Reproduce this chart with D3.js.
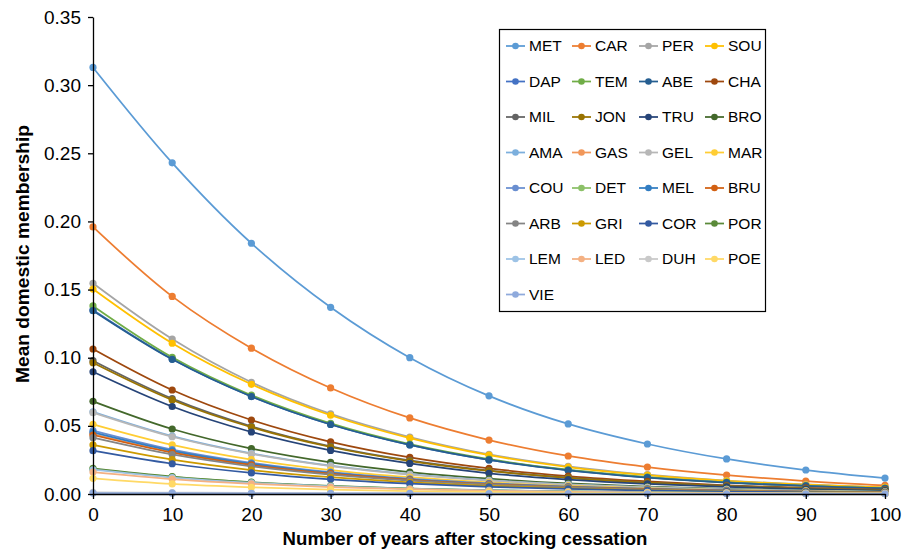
<!DOCTYPE html>
<html><head><meta charset="utf-8">
<script src="https://cdn.jsdelivr.net/npm/d3@7"></script>
<style>
html,body{margin:0;padding:0;background:#fff;}
text{font-family:"Liberation Sans",Arial,sans-serif;}
</style></head>
<body>
<svg id="chart" width="914" height="549"></svg>
<script>
const years = [0,10,20,30,40,50,60,70,80,90,100];
const xTicks = [0,10,20,30,40,50,60,70,80,90,100];
const yTicks = [0,0.05,0.10,0.15,0.20,0.25,0.30,0.35];
const seriesNames = ["MET","CAR","PER","SOU","DAP","TEM","ABE","CHA","MIL","JON","TRU","BRO","AMA","GAS","GEL","MAR","COU","DET","MEL","BRU","ARB","GRI","COR","POR","LEM","LED","DUH","POE","VIE"];
const seriesColors = ["#5B9BD5","#ED7D31","#A5A5A5","#FFC000","#4472C4","#70AD47","#255E91","#9E480E","#636363","#997300","#264478","#43682B","#7CAFDD","#F1975A","#B7B7B7","#FFCD33","#698ED0","#8CC168","#327DC2","#D26012","#848484","#CC9A00","#335AA1","#5A8A39","#9DC3E6","#F4B183","#C9C9C9","#FFD966","#8FAADC"];
const MET = [0.313,0.243,0.184,0.137,0.100,0.072,0.0514,0.0367,0.0257,0.0176,0.0117];
const CAR = [0.196,0.145,0.107,0.0778,0.0558,0.0396,0.0279,0.0198,0.0139,0.0095,0.0063];
const PER = [0.1546,0.1137,0.0820,0.0588,0.0418,0.0291,0.0203,0.0142,0.0099,0.0070,0.0049];
const SOU = [0.1504,0.1106,0.0805,0.0578,0.0410,0.0285,0.0198,0.0139,0.0097,0.0068,0.0048];
const DAP = [0.1350,0.0990,0.0716,0.0511,0.0361,0.0251,0.0175,0.0122,0.0085,0.0059,0.0041];
const TEM = [0.1380,0.1003,0.0725,0.0518,0.0366,0.0256,0.0178,0.0124,0.0086,0.0060,0.0042];
const ABE = [0.1345,0.0988,0.0715,0.0510,0.0360,0.0250,0.0174,0.0121,0.0084,0.0059,0.0041];
const CHA = [0.1064,0.0763,0.0543,0.0383,0.0269,0.0188,0.0131,0.0092,0.0064,0.0045,0.0031];
const MIL = [0.0978,0.0700,0.0497,0.0350,0.0246,0.0172,0.0120,0.0084,0.0059,0.0041,0.0028];
const JON = [0.0963,0.0690,0.0490,0.0345,0.0242,0.0169,0.0118,0.0083,0.0058,0.0040,0.0028];
const TRU = [0.0897,0.0642,0.0455,0.0320,0.0224,0.0152,0.0106,0.0074,0.0052,0.0036,0.0025];
const BRO = [0.0680,0.0477,0.0333,0.0232,0.0161,0.0112,0.0078,0.0054,0.0038,0.0027,0.0018];
const AMA = [0.0603,0.0425,0.0298,0.0208,0.0145,0.0101,0.0070,0.0049,0.0034,0.0024,0.0016];
const GAS = [0.0440,0.0308,0.0216,0.0151,0.0105,0.0073,0.0051,0.0036,0.0025,0.0017,0.0012];
const GEL = [0.0597,0.0420,0.0294,0.0205,0.0143,0.0099,0.0069,0.0048,0.0034,0.0023,0.0016];
const MAR = [0.0511,0.0360,0.0252,0.0176,0.0123,0.0085,0.0059,0.0041,0.0029,0.0020,0.0014];
const COU = [0.0465,0.0326,0.0229,0.0160,0.0112,0.0078,0.0054,0.0038,0.0026,0.0018,0.0013];
const DET = [0.0183,0.0125,0.0085,0.0058,0.0039,0.0027,0.0018,0.0012,0.0008,0.0006,0.0004];
const MEL = [0.0452,0.0317,0.0222,0.0155,0.0108,0.0075,0.0052,0.0037,0.0026,0.0018,0.0012];
const BRU = [0.0433,0.0304,0.0213,0.0149,0.0104,0.0072,0.0050,0.0035,0.0024,0.0017,0.0012];
const ARB = [0.0413,0.0290,0.0203,0.0142,0.0099,0.0069,0.0048,0.0033,0.0023,0.0016,0.0011];
const GRI = [0.0360,0.0252,0.0176,0.0123,0.0086,0.0060,0.0042,0.0029,0.0020,0.0014,0.0010];
const COR = [0.0318,0.0222,0.0155,0.0108,0.0076,0.0053,0.0037,0.0026,0.0018,0.0012,0.0009];
const POR = [0.0188,0.0128,0.0087,0.0059,0.0040,0.0028,0.0019,0.0013,0.0009,0.0006,0.0004];
const LEM = [0.0178,0.0121,0.0082,0.0056,0.0038,0.0026,0.0018,0.0012,0.0008,0.0006,0.0004];
const LED = [0.0161,0.0110,0.0075,0.0051,0.0035,0.0024,0.0016,0.0011,0.0008,0.0005,0.0004];
const DUH = [0.0012,0.0010,0.0008,0.0007,0.0006,0.0005,0.0004,0.0003,0.0003,0.0002,0.0002];
const POE = [0.0115,0.0074,0.0049,0.0033,0.0022,0.0015,0.0010,0.0007,0.0005,0.0003,0.0002];
const VIE = [0.0007,0.0006,0.0005,0.0004,0.0004,0.0003,0.0003,0.0002,0.0002,0.0002,0.0001];
const seriesValues = [MET,CAR,PER,SOU,DAP,TEM,ABE,CHA,MIL,JON,TRU,BRO,AMA,GAS,GEL,MAR,COU,DET,MEL,BRU,ARB,GRI,COR,POR,LEM,LED,DUH,POE,VIE];

const svg = d3.select("#chart");
const pLeft = 93, pRight = 885, pTop = 17, pBottom = 494;
const x = d3.scaleLinear().domain([0,100]).range([pLeft,pRight]);
const y = d3.scaleLinear().domain([0,0.35]).range([pBottom,pTop]);

const line = d3.line().x((d,i)=>x(years[i])).y(d=>y(d)).curve(d3.curveCatmullRom.alpha(0.5));

const gS = svg.append("g");
seriesValues.forEach((vals,si)=>{
  const g = gS.append("g");
  g.append("path").attr("d",line(vals)).attr("fill","none")
   .attr("stroke",seriesColors[si]).attr("stroke-width",1.75);
  g.selectAll("circle").data(vals).join("circle")
   .attr("cx",(d,i)=>x(years[i])).attr("cy",d=>y(d)).attr("r",3.6)
   .attr("fill",seriesColors[si]);
});

// axes
const xa = svg.append("g").attr("transform",`translate(0,${pBottom})`)
  .call(d3.axisBottom(x).tickValues(xTicks).tickSize(5).tickSizeOuter(0).tickFormat(d3.format("d")));
const ya = svg.append("g").attr("transform",`translate(${pLeft},0)`)
  .call(d3.axisLeft(y).tickValues(yTicks).tickSize(5).tickSizeOuter(0).tickFormat(d3.format(".2f")));
[xa,ya].forEach(a=>{
  a.selectAll("path,line").attr("stroke","#000").attr("stroke-width",1.3);
  a.selectAll("text").attr("fill","#000").style("font-size","19px");
});
xa.selectAll("text").attr("dy","0.71em").attr("y",14);
ya.selectAll("text").attr("x",-12);

svg.append("text").attr("x",465).attr("y",545).attr("text-anchor","middle")
  .style("font-size","18.6px").style("font-weight","bold").text("Number of years after stocking cessation");
svg.append("text").attr("transform","translate(29,254) rotate(-90)").attr("text-anchor","middle")
  .style("font-size","19.2px").style("font-weight","bold").text("Mean domestic membership");

// legend
const lg = svg.append("g");
lg.append("rect").attr("x",499.5).attr("y",29.5).attr("width",266).attr("height",282)
  .attr("fill","#fff").attr("stroke","#000").attr("stroke-width",1.2);
const colX = [506,572,639,705];
seriesNames.forEach((n,i)=>{
  const c = i%4, r = Math.floor(i/4);
  const lx = colX[c], ly = 46 + r*35.5;
  lg.append("line").attr("x1",lx).attr("x2",lx+19).attr("y1",ly).attr("y2",ly)
    .attr("stroke",seriesColors[i]).attr("stroke-width",1.75);
  lg.append("circle").attr("cx",lx+9.5).attr("cy",ly).attr("r",3.3).attr("fill",seriesColors[i]);
  lg.append("text").attr("x",lx+23).attr("y",ly).attr("dy","0.35em")
    .style("font-size","15.5px").attr("fill","#000").text(n);
});
</script>
</body></html>
